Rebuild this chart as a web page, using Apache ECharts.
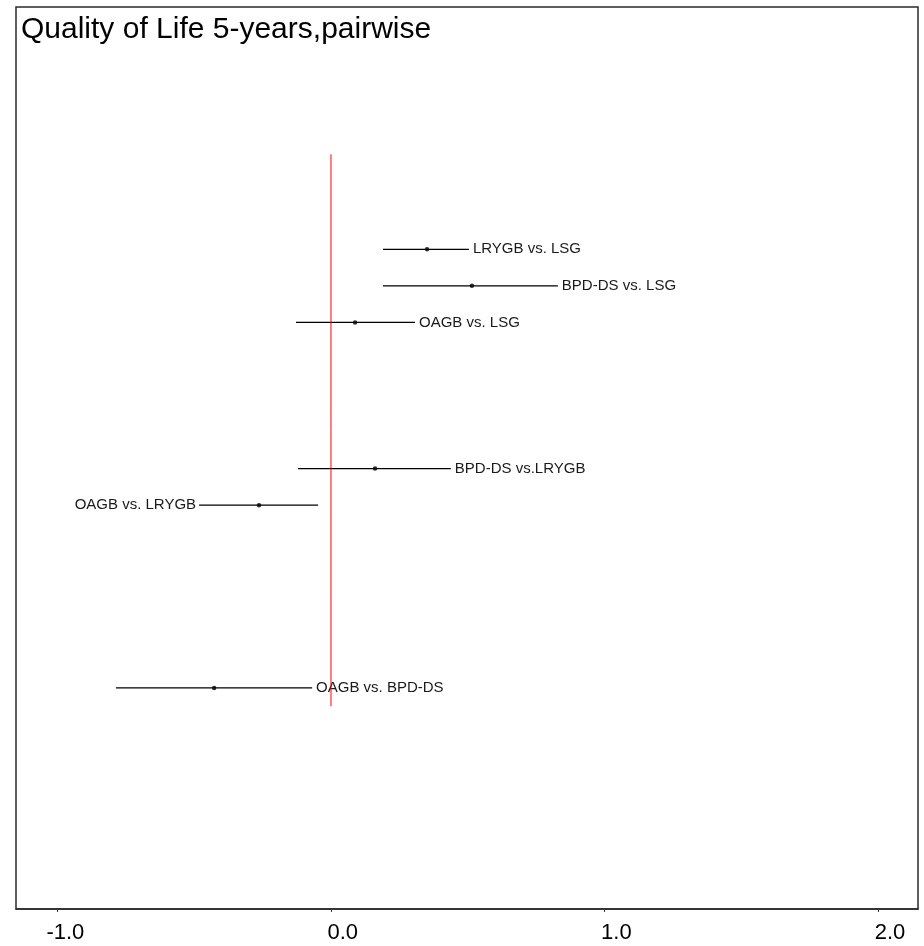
<!DOCTYPE html>
<html>
<head>
<meta charset="utf-8">
<script src="https://cdn.jsdelivr.net/npm/echarts@6/dist/echarts.min.js"></script>
<style>
html,body{margin:0;padding:0;background:#fff;}
#chart{width:924px;height:946px;}
</style>
</head>
<body>
<div id="chart"></div>
<script>
// ---- data ----
const comparisons = ['LRYGB vs. LSG', 'BPD-DS vs. LSG', 'OAGB vs. LSG', 'BPD-DS vs.LRYGB', 'OAGB vs. LRYGB', 'OAGB vs. BPD-DS'];
const rowIndex = [0, 1, 2, 6, 7, 12];
const estimate = [0.351, 0.515, 0.088, 0.161, -0.263, -0.427];
const lowerCI = [0.19, 0.19, -0.128, -0.12, -0.482, -0.786];
const upperCI = [0.504, 0.829, 0.307, 0.438, -0.047, -0.069];
const labelOnLeft = [false, false, false, false, true, false];
const xTickValues = [-1, 0, 1, 2];
const xTickLabels = ['-1.0', '0.0', '1.0', '2.0'];
const refLineX = 0;
const refLineRows = [-2.6, 12.5];
const titleText = 'Quality of Life 5-years,pairwise';

const FONT = "'Liberation Sans', Arial, Helvetica, sans-serif";

const ciData = comparisons.map((c, i) => [lowerCI[i], upperCI[i], rowIndex[i], i]);
const ptData = comparisons.map((c, i) => [estimate[i], rowIndex[i]]);

const chart = echarts.init(document.getElementById('chart'), null, {renderer: 'canvas'});
chart.setOption({
  backgroundColor: '#fff',
  animation: false,
  title: {
    text: titleText,
    left: 21,
    top: 15,
    padding: 0,
    textStyle: {fontFamily: FONT, fontSize: 30, fontWeight: 'normal', color: '#000'}
  },
  grid: {
    left: 16, right: 6, top: 7, bottom: 37,
    show: true, borderColor: '#2a2a2a', borderWidth: 1.5, backgroundColor: 'transparent'
  },
  xAxis: {
    type: 'value',
    min: -1.151, max: 2.145,
    splitLine: {show: false},
    axisLine: {show: true, onZero: false, lineStyle: {color: '#2a2a2a', width: 1.5}},
    axisTick: {show: true, customValues: xTickValues, length: 3, lineStyle: {color: '#333', width: 1}},
    axisLabel: {
      customValues: xTickValues,
      formatter: v => xTickLabels[xTickValues.indexOf(v)] ?? String(v),
      fontFamily: FONT, fontSize: 22, color: '#000',
      align: 'right', padding: [0, -27, 0, 0], margin: 13
    }
  },
  yAxis: {
    type: 'value', inverse: true, min: -6.63, max: 18.05,
    show: false
  },
  series: [
    {
      type: 'line',
      data: [[refLineX, refLineRows[0]], [refLineX, refLineRows[1]]],
      symbol: 'none',
      lineStyle: {color: '#ff0000', width: 1},
      silent: true, z: 3
    },
    {
      type: 'custom',
      data: ciData,
      encode: {x: [0, 1], y: 2},
      renderItem: function (params, api) {
        const i = api.value(3);
        const y = api.value(2);
        const p1 = api.coord([api.value(0), y]);
        const p2 = api.coord([api.value(1), y]);
        const left = labelOnLeft[i];
        return {
          type: 'group',
          children: [
            {
              type: 'line',
              shape: {x1: p1[0], y1: p1[1], x2: p2[0], y2: p2[1]},
              style: {stroke: '#000', lineWidth: 1.3}
            },
            {
              type: 'text',
              style: {
                text: comparisons[i],
                x: left ? p1[0] - 3 : p2[0] + 4,
                y: p1[1],
                align: left ? 'right' : 'left',
                verticalAlign: 'middle',
                fontFamily: FONT,
                fontSize: 15,
                fill: '#1a1a1a'
              }
            }
          ]
        };
      },
      z: 2
    },
    {
      type: 'scatter',
      data: ptData,
      symbol: 'circle',
      symbolSize: 4.5,
      itemStyle: {color: '#000'},
      z: 4
    }
  ]
});
</script>
</body>
</html>
